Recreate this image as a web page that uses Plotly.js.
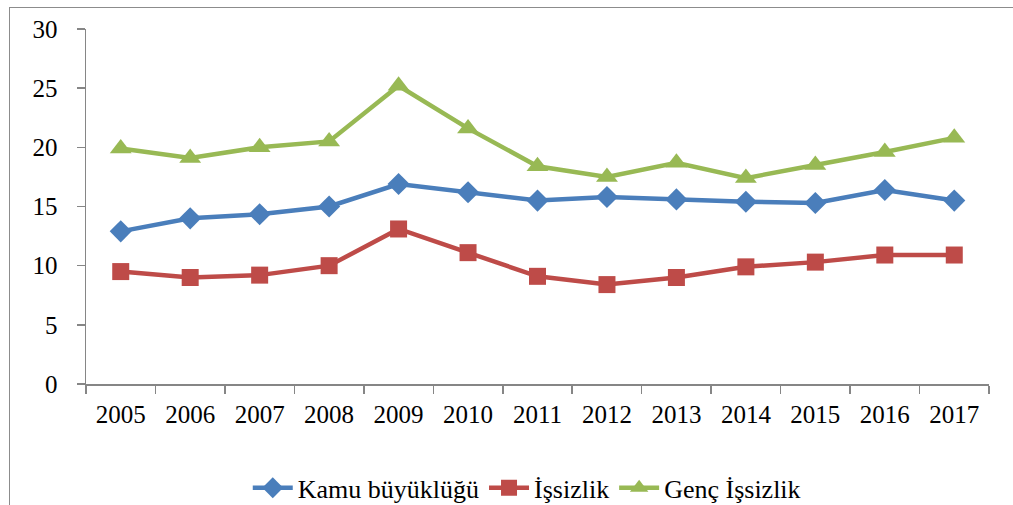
<!DOCTYPE html>
<html>
<head>
<meta charset="utf-8">
<script src="https://cdn.plot.ly/plotly-3.0.1.min.js"></script>
<style>
  html, body { margin: 0; padding: 0; background: #fff; overflow: hidden; }
  #frame { position: absolute; left: 9px; top: 7px; width: 1100px; height: 600px;
           border-left: 1px solid #8c8c8c; border-top: 1px solid #8c8c8c; pointer-events: none; }
  #chart { position: absolute; left: 0; top: 0; width: 1013px; height: 505px; }
</style>
</head>
<body>
<div id="chart"></div>
<div id="frame"></div>
<script>
const years = ["2005","2006","2007","2008","2009","2010","2011","2012","2013","2014","2015","2016","2017"];
const kamu = [12.9, 14.0, 14.35, 15.0, 16.9, 16.2, 15.5, 15.8, 15.6, 15.4, 15.3, 16.4, 15.5];
const issizlik = [9.5, 9.0, 9.2, 10.0, 13.1, 11.1, 9.1, 8.4, 9.0, 9.9, 10.3, 10.9, 10.9];
const gencIssizlik = [19.9, 19.1, 20.0, 20.5, 25.2, 21.6, 18.4, 17.5, 18.7, 17.4, 18.5, 19.6, 20.8];
const seriesNames = ["Kamu büyüklüğü", "İşsizlik", "Genç İşsizlik"];

const font = "Times New Roman, Liberation Serif, DejaVu Serif, serif";
const traces = [
  {x: years, y: kamu, name: seriesNames[0], type: "scatter", mode: "lines+markers",
   line: {color: "#4A7EBB", width: 4.5}, marker: {symbol: "diamond", size: 17, color: "#4A7EBB"}},
  {x: years, y: issizlik, name: seriesNames[1], type: "scatter", mode: "lines+markers",
   line: {color: "#BE4B48", width: 4.5}, marker: {symbol: "square", size: 17, color: "#BE4B48"}},
  {x: years, y: gencIssizlik, name: seriesNames[2], type: "scatter", mode: "lines+markers",
   line: {color: "#98B954", width: 4.5}, marker: {symbol: "triangle-up", size: 19, color: "#98B954"}}
];

const layout = {
  width: 1013, height: 505,
  margin: {l: 86, r: 24, t: 29, b: 121},
  paper_bgcolor: "#fff", plot_bgcolor: "#fff",
  font: {family: font, size: 25, color: "#000"},
  showlegend: true,
  legend: {orientation: "h", x: 0.52, xanchor: "center", xref: "container",
           y: 0.034, yanchor: "middle", yref: "container",
           font: {family: font, size: 26, color: "#000"}, itemwidth: 40, tracegroupgap: 0},
  xaxis: {type: "category", range: [-0.5, 12.5], showgrid: false, zeroline: false, automargin: false,
          showline: true, linecolor: "#868686", linewidth: 1.5,
          ticks: "outside", tickson: "boundaries", ticklen: 8, tickcolor: "#868686", tickwidth: 1.5,
          ticklabelstandoff: 7, tickfont: {family: font, size: 25, color: "#000"}},
  yaxis: {range: [0, 30], dtick: 5, tick0: 0, showgrid: false, zeroline: false, automargin: false,
          showline: true, linecolor: "#868686", linewidth: 1.5,
          ticks: "outside", ticklen: 8, tickcolor: "#868686", tickwidth: 1.5,
          ticklabelstandoff: 14, tickfont: {family: font, size: 25, color: "#000"}}
};

Plotly.newPlot("chart", traces, layout, {displayModeBar: false, staticPlot: true});
</script>
</body>
</html>
